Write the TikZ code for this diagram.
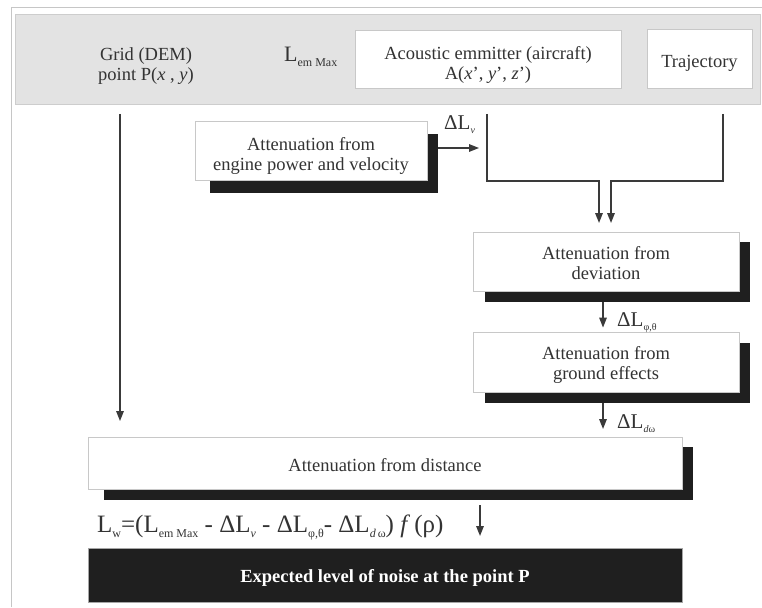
\documentclass[tikz,border=0pt]{standalone}
\usepackage{fontspec}
\setmainfont{Liberation Serif}
\usetikzlibrary{arrows.meta,backgrounds}
\definecolor{txtc}{HTML}{333333}
\definecolor{bandfill}{HTML}{E3E3E3}
\definecolor{bandline}{HTML}{CDCDCD}
\definecolor{boxline}{HTML}{C8C8C8}
\definecolor{shadc}{HTML}{1F1F1F}
\definecolor{linec}{HTML}{3A3A3A}
\definecolor{framec}{HTML}{C6C6C6}
\newcommand\mysub[1]{\raisebox{-5pt}{\fontsize{12}{12}\selectfont #1}}
\newcommand\smallsub[1]{\raisebox{-4pt}{\fontsize{10}{10}\selectfont #1}}
\begin{document}
\begin{tikzpicture}[x=1pt,y=-1pt,
  lbl/.style={text=txtc,font=\fontsize{18.5}{20}\selectfont,align=center,inner sep=0pt},
  wbox/.style={draw=boxline,fill=white,line width=0.8pt,inner sep=0pt},
  conn/.style={draw=linec,line width=1.5pt},
  arr/.style={conn,-{Triangle[length=10pt,width=7.5pt]}},
  big/.style={text=txtc,inner sep=0pt,anchor=base west}]
\useasboundingbox (0,0) rectangle (762,607);
\draw[framec,line width=0.8pt] (11,607) -- (11,7) -- (762,7);
% top band
\node[draw=bandline,fill=bandfill,line width=0.8pt,minimum width=745pt,minimum height=90pt,inner sep=0pt] (band) at (387.5,59) {};
\node[lbl] (grid) at (146,66) {Grid (DEM)\\point P(\textit{x} , \textit{y})};
\node[big,font=\fontsize{22}{22}\selectfont] (lem) at (284,62) {L\mysub{em Max}};
\node[wbox,minimum width=266pt,minimum height=58pt] (ac) at (488,59) {};
\node[lbl] (act) at ([yshift=-6pt]ac.center) {Acoustic emmitter (aircraft)\\A(\textit{x}', \textit{y}', \textit{z}')};
\node[wbox,minimum width=105pt,minimum height=59pt] (traj) at (699.5,58.5) {};
\node[lbl] (trajt) at ([yshift=-5pt]traj.center) {Trajectory};
% boxes
\node[wbox,minimum width=232pt,minimum height=59pt] (eng) at (311,150.5) {};
\node[lbl] (engt) at ([yshift=-5pt]eng.center) {Attenuation from\\engine power and velocity};
\node[wbox,minimum width=266pt,minimum height=59pt] (dev) at (606,261.5) {};
\node[lbl] (devt) at ([yshift=-2pt]dev.center) {Attenuation from\\deviation};
\node[wbox,minimum width=266pt,minimum height=60pt] (gnd) at (606,362) {};
\node[lbl] (gndt) at ([yshift=-3pt]gnd.center) {Attenuation from\\ground effects};
\node[wbox,minimum width=594pt,minimum height=52pt] (dist) at (385,463) {};
\node[lbl] (distt) at ([yshift=-2pt]dist.center) {Attenuation from distance};
\node[fill=shadc,draw=gray!70,line width=0.8pt,inner sep=0pt,minimum width=594pt,minimum height=54pt] (fin) at (385,575) {};
\node[lbl,text=white,font=\bfseries\fontsize{18.5}{20}\selectfont] (fint) at ([yshift=-3pt]fin.center) {Expected level of noise at the point P};
% shadows
\begin{scope}[on background layer]
\fill[shadc] ([shift={(15pt,-13pt)}]eng.north west) rectangle ([shift={(11pt,-13pt)}]eng.south east);
\fill[shadc] ([shift={(12pt,-10pt)}]dev.north west) rectangle ([shift={(11pt,-11pt)}]dev.south east);
\fill[shadc] ([shift={(12pt,-11pt)}]gnd.north west) rectangle ([shift={(11pt,-11pt)}]gnd.south east);
\fill[shadc] ([shift={(16pt,-10pt)}]dist.north west) rectangle ([shift={(11pt,-11pt)}]dist.south east);
\end{scope}
% connectors
\coordinate (g0) at (120,114);
\coordinate (g1) at (120,421);
\draw[arr] (g0) -- (g1);
\coordinate (v0) at (438,148);
\coordinate (v1) at (479,148);
\draw[arr] (v0) -- (v1);
\coordinate (m0) at (487,114);
\coordinate (m1) at (599,223);
\draw[arr] (m0) -- (487,181) -- (599,181) -- (m1);
\coordinate (t0) at (723,114);
\coordinate (t1) at (611,223);
\draw[arr] (t0) -- (723,181) -- (611,181) -- (t1);
\draw[arr] ([shift={(-3pt,-11pt)}]dev.south) -- ([shift={(-3pt,4pt)}]gnd.north);
\coordinate (d1) at (603,429);
\draw[arr] ([shift={(-3pt,-11pt)}]gnd.south) -- (d1);
\coordinate (f0) at (480,505);
\coordinate (f1) at (480,536);
\draw[arr] (f0) -- (f1);
% labels
\node[big,font=\fontsize{21}{21}\selectfont] (dlv) at (444,129) {ΔL\smallsub{\textit{v}}};
\node[big,font=\fontsize{21}{21}\selectfont] (dlpt) at (617,326) {ΔL\smallsub{φ,θ}};
\node[big,font=\fontsize{21}{21}\selectfont] (dldw) at (617,428) {ΔL\smallsub{\textit{d}ω}};
\node[big,font=\fontsize{25}{25}\selectfont] (form) at (97,532) {L\mysub{w}=(L\mysub{em Max} - ΔL\mysub{\textit{v}} - ΔL\mysub{φ,θ}- ΔL\mysub{\textit{d}\,ω}) \textit{f}\,(ρ)};
\end{tikzpicture}
\end{document}
